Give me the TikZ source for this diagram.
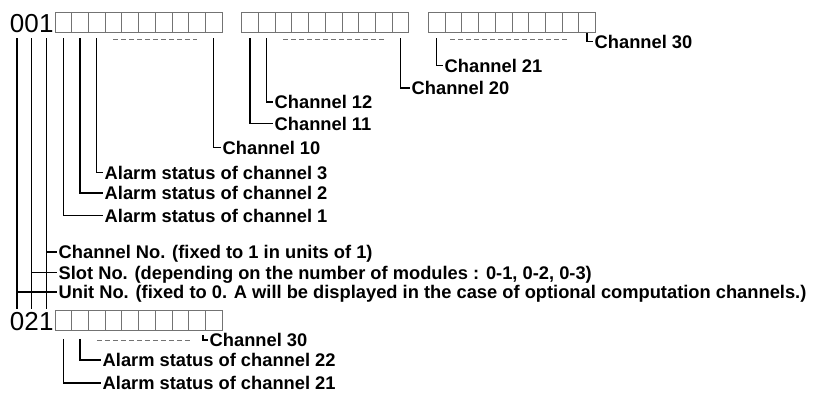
\documentclass[tikz,border=0pt]{standalone}
\usepackage{fontspec}
\setmainfont{Liberation Sans}
\usetikzlibrary{calc}
\tikzset{
  cell/.style={draw=black!55, line width=0.8pt, minimum width=16.7pt, minimum height=20pt, inner sep=0pt},
  digit/.style={anchor=base, inner sep=0pt, font=\fontsize{26}{28}\selectfont},
  lab/.style={anchor=west, inner sep=1.5pt, text height=13.1pt, text depth=0pt,
    font=\bfseries\fontsize{18.3}{20}\selectfont},
  wire/.style={line width=1.2pt, black},
  gap/.style={dash pattern=on 5pt off 3pt, line width=0.8pt, black!55},
}
\begin{document}
\begin{tikzpicture}[x=1pt, y=-1pt]
  \useasboundingbox (0,0) rectangle (821,413);
  % first line: 001 and the 30 alarm cells
  \node[digit] (t1) at (17,32) {0};
  \node[digit] (t2) at (31.7,32) {0};
  \node[digit] (t3) at (46.3,32) {1};
  \foreach \g/\x in {0/55, 1/241.7, 2/428.4}
    \foreach \k in {1,...,10} {
      \pgfmathtruncatemacro{\idx}{10*\g+\k}
      \node[cell] (a\idx) at ({\x+(\k-0.5)*16.7},22) {};
    }
  \draw[gap] ([yshift=-7pt]a4.south) -- ([yshift=-7pt]a9.south);
  \draw[gap] ([yshift=-7pt]a13.south) -- ([yshift=-7pt]a19.south);
  \draw[gap] ([yshift=-7pt,xshift=-3pt]a22.south) -- ([yshift=-7pt,xshift=-2pt]a29.south);
  % second line: 021 and its cells
  \node[digit] (u1) at (17,330) {0};
  \node[digit] (u2) at (31.7,330) {2};
  \node[digit] (u3) at (46.3,330) {1};
  \foreach \k in {1,...,10} {
    \pgfmathtruncatemacro{\idx}{20+\k}
    \node[cell] (b\idx) at ({55+(\k-0.5)*16.7},320.5) {};
  }
  \draw[gap] ([yshift=-9pt]b23.south) -- ([yshift=-9pt,xshift=10pt]b28.south);
  % labels
  \node[lab] (l30) at (593,41.5) {Channel 30};
  \node[lab] (l21) at (443,65.5) {Channel 21};
  \node[lab] (l20) at (410,88) {Channel 20};
  \node[lab] (l12) at (273,102) {Channel 12};
  \node[lab] (l11) at (273,123.5) {Channel 11};
  \node[lab] (l10) at (221,147.5) {Channel 10};
  \node[lab] (s3) at (103,172.5) {Alarm status of channel 3};
  \node[lab] (s2) at (103,193) {Alarm status of channel 2};
  \node[lab] (s1) at (103,215.5) {Alarm status of channel 1};
  \node[lab] (lch) at (57,252) {Channel No. (fixed to 1 in units of 1)};
  \node[lab] (lsl) at (57,272.5) {Slot No. (depending on the number of modules : 0-1, 0-2, 0-3)};
  \node[lab] (lun) at (57,292) {Unit No. (fixed to 0. A will be displayed in the case of optional computation channels.)};
  \node[lab] (m30) at (208,340) {Channel 30};
  \node[lab] (s22) at (101,360) {Alarm status of channel 22};
  \node[lab] (s21) at (101,383) {Alarm status of channel 21};
  \coordinate (c30) at (203,335);
  % connectors
  \draw[wire] ([yshift=-1pt]a30.south) |- (l30.west);
  \draw[wire] ([yshift=-6pt]a21.south) |- (l21.west);
  \draw[wire] ([yshift=-6pt]a20.south) |- (l20.west);
  \draw[wire] ([yshift=-6pt]a12.south) |- (l12.west);
  \draw[wire] ([yshift=-6pt]a11.south) |- (l11.west);
  \draw[wire] ([yshift=-6pt]a10.south) |- (l10.west);
  \draw[wire] ([yshift=-6pt]a3.south) |- (s3.west);
  \draw[wire] ([yshift=-6pt]a2.south) |- (s2.west);
  \draw[wire] ([yshift=-6pt]a1.south) |- (s1.west);
  \draw[wire] ([yshift=-6pt]t1.south) -- ([yshift=3pt]u1.north);
  \draw[wire] ([yshift=-6pt]t2.south) -- ([yshift=3pt]u2.north);
  \draw[wire] ([yshift=-6pt]t3.south) -- ([yshift=3pt]u3.north);
  \draw[wire] (t3 |- lch.west) -- (lch.west);
  \draw[wire] (t2 |- lsl.west) -- (lsl.west);
  \draw[wire] (t1 |- lun.west) -- (lun.west);
  \draw[wire] (c30) |- (m30.west);
  \draw[wire] ([yshift=-8pt]b22.south) |- (s22.west);
  \draw[wire] ([yshift=-8pt]b21.south) |- (s21.west);
\end{tikzpicture}
\end{document}
